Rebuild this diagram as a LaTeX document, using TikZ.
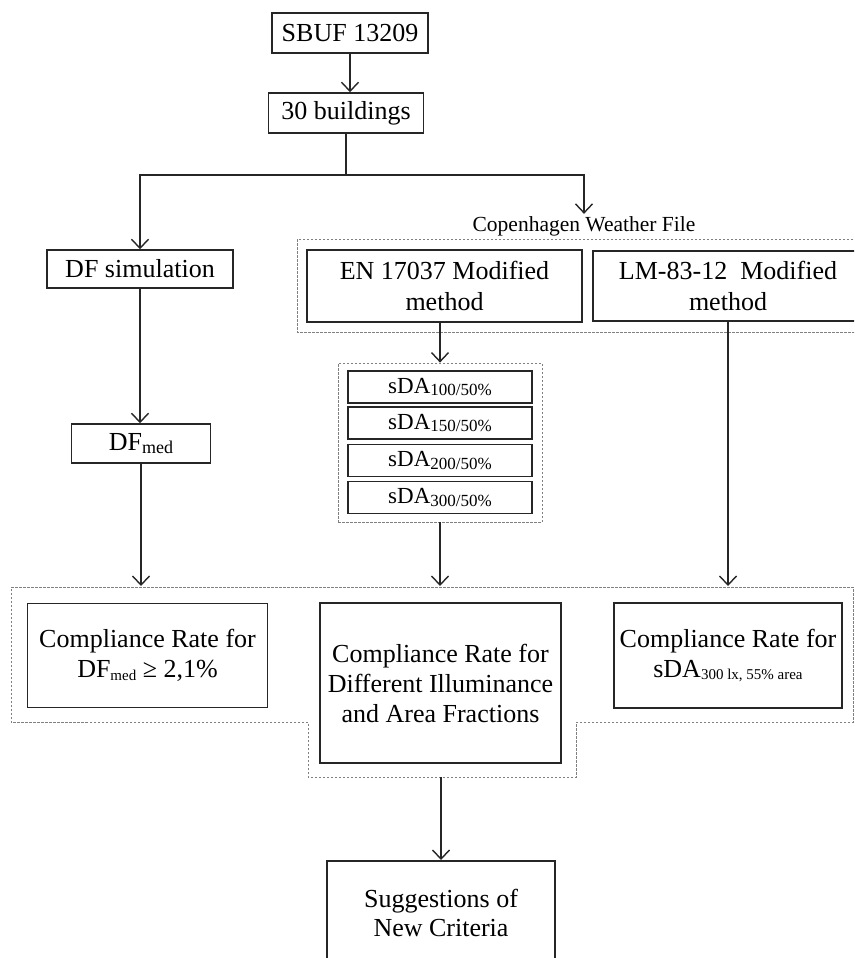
\documentclass[tikz,border=0pt]{standalone}
\usepackage{fontspec}
\setmainfont{Liberation Serif}
\usetikzlibrary{arrows.meta}
\newcommand\lowsub[2]{\raisebox{-0.25ex}{\fontsize{#1}{#1}\selectfont #2}}
\begin{document}
\begin{tikzpicture}[x=1pt,y=-1pt,
  box/.style={draw=black!85, line width=1.5pt, inner sep=0pt, align=center, font=\fontsize{26}{30}\selectfont},
  grp/.style={draw=black!50, line width=0.8pt, dash pattern=on 2.5pt off 1.5pt, inner sep=0pt},
  arr/.style={draw=black!85, line width=1.6pt, -{Straight Barb[length=9pt,width=17pt,line width=1.4pt]}},
  ln/.style={draw=black!85, line width=1.6pt}]
\useasboundingbox (0,0) rectangle (854,958);
\clip (0,0) rectangle (854,958);
\fill[white] (0,0) rectangle (854,958);
% top
\node[box, minimum width=156pt, minimum height=40pt] (sbuf) at (350,33) {SBUF 13209};
\node[box, minimum width=155pt, minimum height=40pt] (bld) at (346,113) {30 buildings};
\node[box, minimum width=186pt, minimum height=38pt] (dfsim) at (140,269) {DF simulation};
\node[inner sep=2pt, font=\fontsize{21.5}{25}\selectfont, anchor=base] (cwf) at (584,231) {Copenhagen Weather File};
\draw[grp] (297,239) rectangle (858,332);
\node[box, minimum width=275pt, minimum height=72pt, font=\fontsize{26}{31}\selectfont] (en) at (444.5,286) {EN 17037 Modified\\method};
\node[box, minimum width=270pt, minimum height=70pt, font=\fontsize{26}{31}\selectfont] (lm) at (728,286) {LM-83-12\ \ Modified\\method};
% sDA group
\node[grp, minimum width=204pt, minimum height=159pt] (sdagrp) at (440,442.5) {};
\node[box, minimum width=184pt, minimum height=32pt, font=\fontsize{23}{23}\selectfont] (sda1) at (440,387) {sDA\lowsub{17}{100/50\%}};
\node[box, minimum width=184pt, minimum height=32pt, font=\fontsize{23}{23}\selectfont] (sda2) at (440,423) {sDA\lowsub{17}{150/50\%}};
\node[box, minimum width=184pt, minimum height=32pt, font=\fontsize{23}{23}\selectfont] (sda3) at (440,460.5) {sDA\lowsub{17}{200/50\%}};
\node[box, minimum width=184pt, minimum height=32pt, font=\fontsize{23}{23}\selectfont] (sda4) at (440,497.5) {sDA\lowsub{17}{300/50\%}};
% DF med
\node[box, minimum width=139pt, minimum height=39pt] (dfmed) at (141,443.5) {DF\lowsub{18}{med}};
% compliance
\draw[grp] (11,587) -- (853,587) -- (853,722) -- (576,722) -- (576,777) -- (308,777) -- (308,722) -- (11,722) -- cycle;
\coordinate (bigtop) at (0,586);
\coordinate (bigbot) at (0,777);
\node[box, minimum width=240pt, minimum height=104pt] (crl) at (147.5,655.5) {Compliance Rate for\\DF\lowsub{15}{med} ≥ 2,1\%};
\node[box, minimum width=241pt, minimum height=160pt] (crm) at (440.5,683) {Compliance Rate for\\Different Illuminance\\and Area Fractions};
\node[box, minimum width=228pt, minimum height=105pt] (crr) at (728,655.5) {Compliance Rate for\\sDA\lowsub{15}{300 lx, 55\% area}};
% suggestions
\node[box, minimum width=228pt, minimum height=160pt, anchor=north] (sugg) at (441,860) {};
\node[font=\fontsize{26}{29}\selectfont, align=center] (suggtxt) at (441,913) {Suggestions of\\New Criteria};
% connectors
\draw[arr] (sbuf.south) -- (sbuf.south |- bld.north);
\coordinate (jn) at (bld.south |- 0,175);
\draw[ln] (bld.south) -- (jn);
\draw[arr] (jn) -| (dfsim.north);
\draw[arr] (jn) -| (cwf.north);
\draw[arr] (dfsim.south) -- (dfsim.south |- dfmed.north);
\draw[arr] (dfmed.south) -- (dfmed.south |- bigtop);
\draw[arr] (sdagrp.north |- en.south) -- (sdagrp.north);
\draw[arr] (sdagrp.south) -- (sdagrp.south |- bigtop);
\draw[arr] (lm.south) -- (lm.south |- bigtop);
\draw[arr] (sugg.north |- bigbot) -- (sugg.north);
\end{tikzpicture}
\end{document}
